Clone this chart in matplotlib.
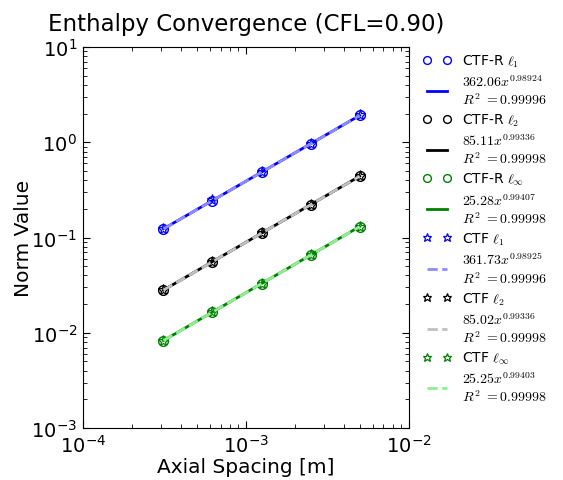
import matplotlib

matplotlib.use("Agg")
import matplotlib.pyplot as plt
import numpy as np

plt.rcParams["mathtext.fontset"] = "cm"
plt.rcParams["font.family"] = "DejaVu Sans"

# axial spacing of the refinement levels [m]
dz = np.array([3.125e-4, 6.25e-4, 1.25e-3, 2.5e-3, 5.0e-3])

# CTF-R error norms
ctfr_l1 = np.array([0.1235, 0.245, 0.486, 0.965, 1.916])
ctfr_l2 = np.array([0.0281, 0.0559, 0.1112, 0.2214, 0.4409])
ctfr_linf = np.array([0.00829, 0.01651, 0.03287, 0.06548, 0.1304])

# CTF error norms
ctf_l1 = np.array([0.1236, 0.2451, 0.4861, 0.9652, 1.9165])
ctf_l2 = np.array([0.0281, 0.0559, 0.1111, 0.2213, 0.4408])
ctf_linf = np.array([0.00829, 0.01650, 0.03286, 0.06546, 0.1303])

# power-law fits: coefficient, exponent, R^2
ctfr_fits = [(362.06, 0.98924, 0.99996), (85.11, 0.99336, 0.99998), (25.28, 0.99407, 0.99998)]
ctf_fits = [(361.73, 0.98925, 0.99996), (85.02, 0.99336, 0.99998), (25.25, 0.99403, 0.99998)]

norm_names = [r"$\ell_1$", r"$\ell_2$", r"$\ell_\infty$"]
ctfr_colors = ["#0000ff", "#000000", "#008000"]
ctf_fit_colors = ["#8c8cff", "#c0c0c0", "#90ee90"]


def fit_label(a, b, r2):
    return f"${a:.2f}x^{{{b:.5f}}}$\n$R^2$ $={r2:.5f}$"


fig = plt.figure(figsize=(5.63, 4.81), dpi=100)
ax = fig.add_axes([0.147, 0.108, 0.579, 0.792])

for vals, fit, name, c in zip([ctfr_l1, ctfr_l2, ctfr_linf], ctfr_fits, norm_names, ctfr_colors):
    ax.loglog(dz, vals, "o", ms=7, mfc="none", mec=c, mew=1.0, label="CTF-R " + name)
    a, b, r2 = fit
    ax.loglog(dz, a * dz ** b, "-", color=c, lw=2, label=fit_label(a, b, r2))

for vals, fit, name, c, fc in zip([ctf_l1, ctf_l2, ctf_linf], ctf_fits, norm_names,
                                  ctfr_colors, ctf_fit_colors):
    ax.loglog(dz, vals, "*", ms=8, mfc="none", mec=c, mew=0.9, label="CTF " + name)
    a, b, r2 = fit
    ax.loglog(dz, a * dz ** b, "--", color=fc, lw=2, label=fit_label(a, b, r2))

ax.set_xlim(1e-4, 1e-2)
ax.set_ylim(1e-3, 1e1)
ax.tick_params(which="both", direction="in", top=True, right=True, labelsize=14)
ax.tick_params(which="major", length=5, pad=4)
ax.tick_params(which="minor", length=3)
ax.set_xlabel("Axial Spacing [m]", fontsize=14.5, labelpad=1)
ax.set_ylabel("Norm Value", fontsize=14.5, labelpad=-1)
ax.set_title("Enthalpy Convergence (CFL=0.90)", fontsize=16.5, pad=12)

ax.legend(loc="upper left", bbox_to_anchor=(1.018, 1.008), frameon=False, numpoints=2,
          fontsize=10, handlelength=2.0, handletextpad=0.8, borderaxespad=0.2,
          labelspacing=0.33, markerscale=0.8)

fig.savefig("out.png", dpi=100)
